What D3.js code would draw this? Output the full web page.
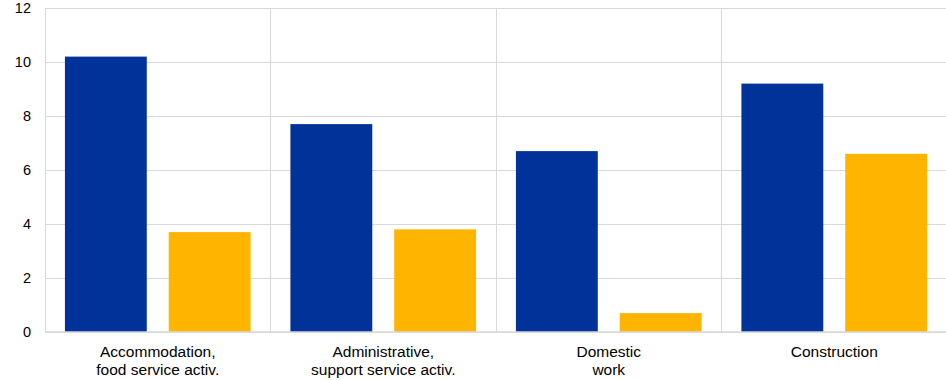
<!DOCTYPE html>
<html><head><meta charset="utf-8">
<script src="https://cdn.jsdelivr.net/npm/d3@7"></script>
<style>body{margin:0;background:#fff}svg text{font-family:"Liberation Sans",Arial,sans-serif}</style>
</head><body><svg id="c" width="946" height="380"></svg>
<script>
const categories = [["Accommodation,","food service activ."],["Administrative,","support service activ."],["Domestic","work"],["Construction"]];
const seriesNames = ["s1","s2"];
const seriesA = [10.2, 7.7, 6.7, 9.2];
const seriesB = [3.7, 3.8, 0.7, 6.6];
const yTicks = [0,2,4,6,8,10,12];
const colors = ["#003299","#FFB400"];

const svg = d3.select("#c");
const L=45, R=947, T=8, B=332;
const x0 = d3.scaleBand().domain(d3.range(categories.length)).range([L,R]).padding(0);
const x1 = d3.scaleBand().domain(seriesNames).range([0,x0.bandwidth()]).paddingInner(0.2115).paddingOuter(0.192);
const y = d3.scaleLinear().domain([0,12]).range([B,T]);

const grid = svg.append("g");
yTicks.forEach(t=>{
  grid.append("line").attr("x1",L).attr("x2",R).attr("y1",y(t)).attr("y2",y(t)).attr("stroke","#d9d9d9").attr("stroke-width",1).attr("shape-rendering","crispEdges");
});
d3.range(categories.length).forEach(i=>{
  const xx = x0(i);
  grid.append("line").attr("x1",xx).attr("x2",xx).attr("y1",T).attr("y2",B).attr("stroke","#d9d9d9").attr("stroke-width",1).attr("shape-rendering","crispEdges");
});

const data = categories.map((c,i)=>({i, vals:[seriesA[i],seriesB[i]]}));
const g = svg.append("g");
data.forEach(d=>{
  d.vals.forEach((v,j)=>{
    g.append("rect").attr("x",x0(d.i)+x1(seriesNames[j])).attr("width",x1.bandwidth())
      .attr("y",y(v)).attr("height",B-y(v)).attr("fill",colors[j]);
  });
});

svg.append("line").attr("x1",L).attr("x2",R).attr("y1",B).attr("y2",B).attr("stroke","#d9d9d9").attr("stroke-width",1.5);

const ya = svg.append("g");
yTicks.forEach(t=>{
  ya.append("text").attr("x",31).attr("y",y(t)+5).attr("text-anchor","end").attr("font-size",14.5).attr("fill","#000").text(t);
});

const xa = svg.append("g");
categories.forEach((lines,i)=>{
  const cx = x0(i)+x0.bandwidth()/2;
  const t = xa.append("text").attr("text-anchor","middle").attr("font-size",15.5).attr("fill","#000");
  lines.forEach((ln,k)=>{
    t.append("tspan").attr("x",cx).attr("y",357+k*18).text(ln);
  });
});
</script></body></html>
